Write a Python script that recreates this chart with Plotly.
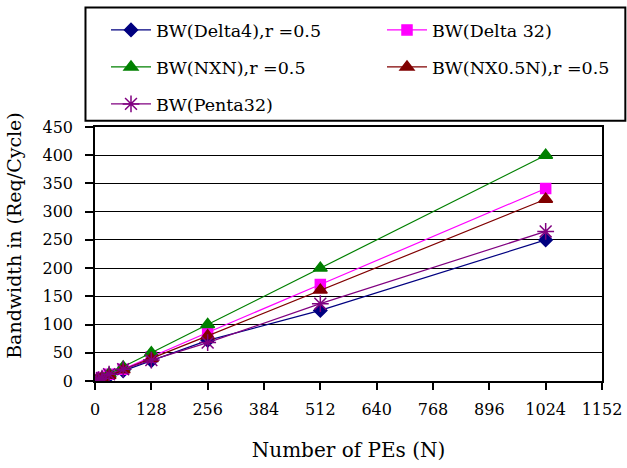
import plotly.graph_objects as go

N = [4, 8, 16, 32, 64, 128, 256, 512, 1024]
delta4 = [1, 2, 4, 9, 18, 36, 72, 125, 250]
delta32 = [1.5, 3, 6, 12, 21, 43, 86, 171, 341]
nxn = [1.6, 3, 6, 13, 25, 50, 100, 200, 400]
nx05n = [1.3, 2.5, 5, 10, 20, 40, 80, 161, 322]
penta32 = [1.2, 2.5, 5, 12, 21, 37, 68, 137, 265]

x_ticks = [0, 128, 256, 384, 512, 640, 768, 896, 1024, 1152]
y_ticks = [0, 50, 100, 150, 200, 250, 300, 350, 400, 450]

names = ["BW(Delta4),r =0.5", "BW(Delta 32)", "BW(NXN),r =0.5",
         "BW(NX0.5N),r =0.5", "BW(Penta32)"]
series = [delta4, delta32, nxn, nx05n, penta32]
colors = ["#000080", "#FF00FF", "#008000", "#800000", "#800080"]
symbols = ["diamond", "square", "triangle-up", "triangle-up", "asterisk-open"]
sizes = [10, 10, 12, 12, 14]
legends = ["legend", "legend2", "legend3", "legend4", "legend5"]

FONT = "DejaVu Serif"

fig = go.Figure()
for nm, ys, c, s, sz, lg in zip(names, series, colors, symbols, sizes, legends):
    fig.add_trace(go.Scatter(
        x=N, y=ys, name=nm, mode="lines+markers",
        line=dict(color=c, width=1.2),
        marker=dict(symbol=s, size=sz, color=c, line=dict(color=c, width=1.5)),
        legend=lg,
    ))

W, H = 627, 468
def leg(px, py):
    return dict(xref="container", yref="container", x=px / W, y=1 - py / H,
                xanchor="left", yanchor="middle", bgcolor="rgba(0,0,0,0)",
                borderwidth=0, font=dict(family=FONT, size=17.5, color="black"),
                itemwidth=40)

fig.update_layout(
    width=W, height=H,
    margin=dict(l=95, r=25, t=127, b=87, autoexpand=False),
    paper_bgcolor="white", plot_bgcolor="white",
    font=dict(family=FONT, size=16, color="black"),
    showlegend=True,
    legend=leg(106, 30),
    legend2=leg(382, 30),
    legend3=leg(106, 67),
    legend4=leg(382, 67),
    legend5=leg(106, 104),
    xaxis=dict(range=[0, 1152], tickvals=x_ticks, ticktext=[str(v) for v in x_ticks],
               showgrid=False, zeroline=False, showline=True, linecolor="black",
               linewidth=1.5, mirror=True, ticks="outside", ticklen=7,
               tickcolor="black", tickwidth=1.5, ticklabelstandoff=6,
               tickfont=dict(family=FONT, size=16),
               title=dict(text="Number of PEs (N)", font=dict(family=FONT, size=20),
                          standoff=25)),
    yaxis=dict(range=[0, 450], tickvals=y_ticks, ticktext=[str(v) for v in y_ticks],
               showgrid=True, gridcolor="black", gridwidth=1, zeroline=False,
               showline=True, linecolor="black", linewidth=1.5, mirror=True,
               ticks="outside", ticklen=8, tickcolor="black", tickwidth=1.5,
               ticklabelstandoff=9, tickfont=dict(family=FONT, size=16)),
    shapes=[dict(type="rect", xref="paper", yref="paper",
                 x0=(86 - 95.5) / 506.2, x1=(625 - 95.5) / 506.2,
                 y0=(381 - 121) / 253.7, y1=(381 - 8) / 253.7,
                 line=dict(color="black", width=2), fillcolor="white", layer="below")],
    annotations=[dict(text="Bandwidth in (Req/Cycle)", xref="paper", yref="paper",
                      x=(15 - 95.5) / 506.2, y=(381 - 361) / 253.7,
                      xanchor="center", yanchor="bottom", textangle=-90,
                      showarrow=False, font=dict(family=FONT, size=19))],
)

fig.write_html("out.html", config={"displayModeBar": False},
               post_script="document.body.style.margin='0';document.body.style.padding='0';")
